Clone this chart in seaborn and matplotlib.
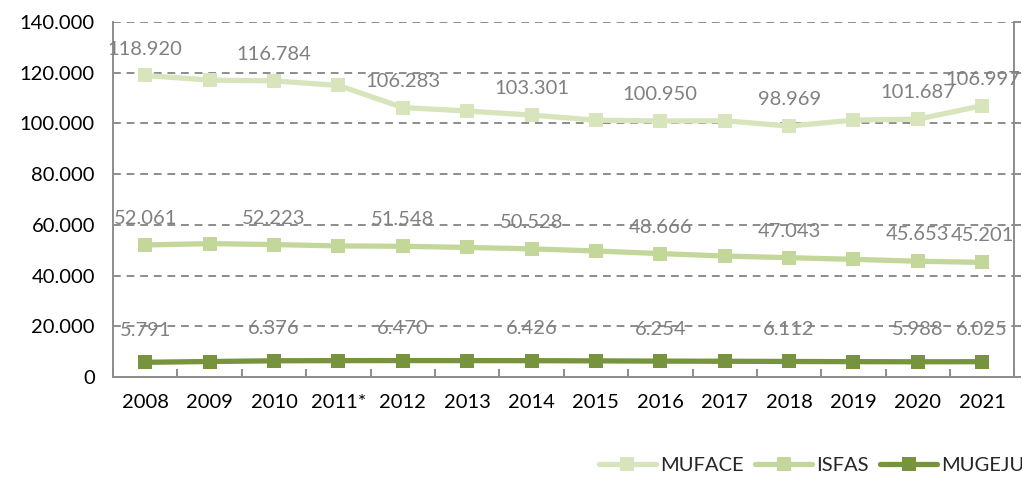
import matplotlib
matplotlib.use("Agg")
import matplotlib.pyplot as plt
import seaborn as sns
import pandas as pd
from matplotlib.ticker import FuncFormatter, FixedLocator

years = ["2008", "2009", "2010", "2011*", "2012", "2013", "2014", "2015",
         "2016", "2017", "2018", "2019", "2020", "2021"]
muface = [118920, 117100, 116784, 115000, 106283, 104900, 103301, 101300,
          100950, 101050, 98969, 101300, 101687, 106997]
isfas = [52061, 52600, 52223, 51700, 51548, 51100, 50528, 49700,
         48666, 47700, 47043, 46400, 45653, 45201]
mugeju = [5791, 6100, 6376, 6450, 6470, 6450, 6426, 6350,
          6254, 6200, 6112, 6050, 5988, 6025]
series_names = ["MUFACE", "ISFAS", "MUGEJU"]
labelled_years = ["2008", "2010", "2012", "2014", "2016", "2018", "2020", "2021"]

colors = ["#D8E4BC", "#C4D79B", "#77933C"]

df = pd.DataFrame({
    "year": years * 3,
    "value": muface + isfas + mugeju,
    "serie": [series_names[0]] * len(years) + [series_names[1]] * len(years) + [series_names[2]] * len(years),
})

sns.set_style("white")
plt.rcParams["font.family"] = ["Lato", "DejaVu Sans"]

fig = plt.figure(figsize=(10.22, 4.79), dpi=100)
ax = fig.add_axes([0.1106, 0.213, 0.882, 0.741])

sns.lineplot(data=df, x="year", y="value", hue="serie", style="serie",
             palette=colors, markers=["s", "s", "s"], dashes=False,
             linewidth=3.8, markersize=10, markeredgewidth=0, sort=False, ax=ax)

ax.set_xlim(-0.5, len(years) - 0.5)
ax.set_ylim(0, 140000)
ax.set_yticks(range(0, 140001, 20000))
ax.yaxis.set_major_formatter(FuncFormatter(lambda v, p: f"{int(v):,}".replace(",", ".")))
ax.set_xlabel("")
ax.set_ylabel("")

ax.yaxis.grid(True, linestyle=(0, (4, 3)), color="#8C8C8C", linewidth=1.4)
ax.set_axisbelow(True)

for s in ["left", "bottom", "right"]:
    ax.spines[s].set_visible(True)
    ax.spines[s].set_color("#8C8C8C")
    ax.spines[s].set_linewidth(1.4)
ax.spines["top"].set_visible(False)

ax.xaxis.set_minor_locator(FixedLocator([i - 0.5 for i in range(len(years) + 1)]))
ax.tick_params(axis="x", which="major", length=0, labelsize=14.5, colors="black", pad=12)
ax.tick_params(axis="x", which="minor", length=6, width=1.4, color="#8C8C8C", bottom=True,
               direction="in")
ax.tick_params(axis="y", which="major", left=False, right=True, labelright=False,
               length=5, width=1.4, color="#8C8C8C", labelsize=14.5, labelcolor="black", pad=8)

offsets = [19, 19, 23]
for vals, off in zip([muface, isfas, mugeju], offsets):
    for i, (y, v) in enumerate(zip(years, vals)):
        if y in labelled_years:
            ax.annotate(f"{v:,}".replace(",", "."), (i, v), textcoords="offset points",
                        xytext=(0, off), ha="center", va="center", fontsize=14.5, color="#808080")

handles, labels = ax.get_legend_handles_labels()
ax.legend(handles, labels, loc="center", bbox_to_anchor=(0.775, -0.25), ncol=3, frameon=False,
          fontsize=14.5, handlelength=2.8, columnspacing=0.6, handletextpad=0.2)

fig.savefig("out.png", dpi=100)
